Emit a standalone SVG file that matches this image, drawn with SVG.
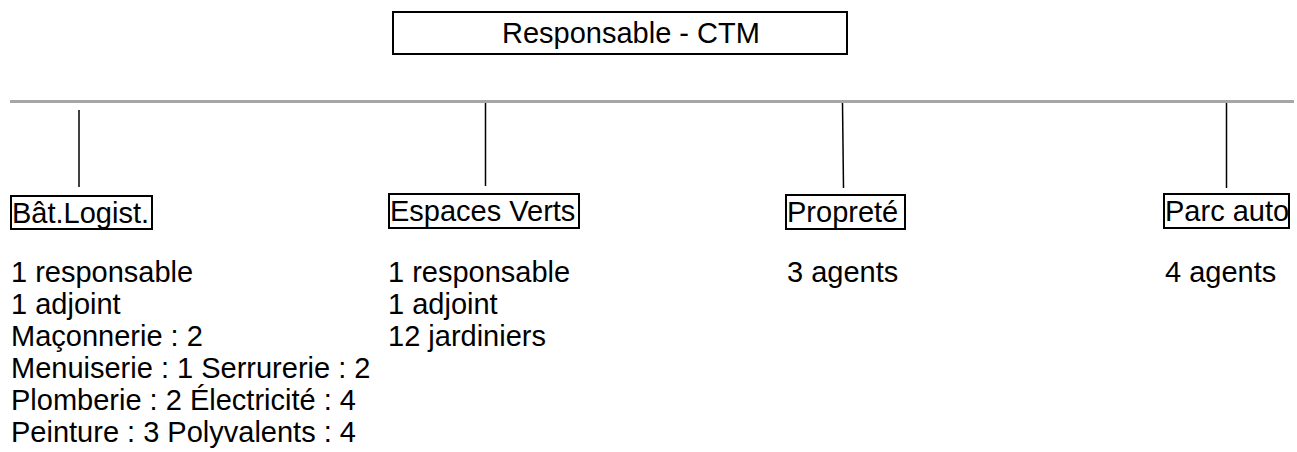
<svg xmlns="http://www.w3.org/2000/svg" width="1297" height="452" viewBox="0 0 1297 452">
<style>
text{font-family:"Liberation Sans",Arial,sans-serif;font-size:29px;fill:#000}
.box{fill:#fff;stroke:#000;stroke-width:2}
.conn{stroke:#000;stroke-width:1.5}
.bar{stroke:#a6a6a6;stroke-width:3}
</style>
<rect width="1297" height="452" fill="#fff"/>
<g id="connectors">
<line class="bar" x1="10" y1="101.5" x2="1294" y2="101.5"/>
<line class="conn" x1="79" y1="110" x2="79" y2="187"/>
<line class="conn" x1="485.5" y1="103" x2="485.5" y2="186"/>
<line class="conn" x1="842.5" y1="103" x2="843.5" y2="188"/>
<line class="conn" x1="1226.5" y1="103" x2="1226.5" y2="188"/>
</g>
<g id="root">
<rect class="box" x="393" y="12" width="454" height="42"/>
<text x="502" y="43">Responsable - CTM</text>
</g>
<g id="bat">
<rect class="box" x="11" y="196" width="141" height="33"/>
<text x="12" y="223">Bât.Logist.</text>
<text x="11" y="282">1 responsable</text>
<text x="11" y="314">1 adjoint</text>
<text x="11" y="346">Maçonnerie : 2</text>
<text x="11" y="378">Menuiserie : 1 Serrurerie : 2</text>
<text x="11" y="410">Plomberie : 2 Électricité : 4</text>
<text x="11" y="442">Peinture : 3 Polyvalents : 4</text>
</g>
<g id="espaces">
<rect class="box" x="389" y="194" width="190" height="34"/>
<text x="390" y="221">Espaces Verts</text>
<text x="388" y="282">1 responsable</text>
<text x="388" y="314">1 adjoint</text>
<text x="388" y="346">12 jardiniers</text>
</g>
<g id="proprete">
<rect class="box" x="786" y="195" width="119" height="34"/>
<text x="787" y="222">Propreté</text>
<text x="787" y="282">3 agents</text>
</g>
<g id="parc">
<rect class="box" x="1164" y="194" width="125" height="34"/>
<text x="1165" y="221">Parc auto</text>
<text x="1165" y="282">4 agents</text>
</g>
</svg>
